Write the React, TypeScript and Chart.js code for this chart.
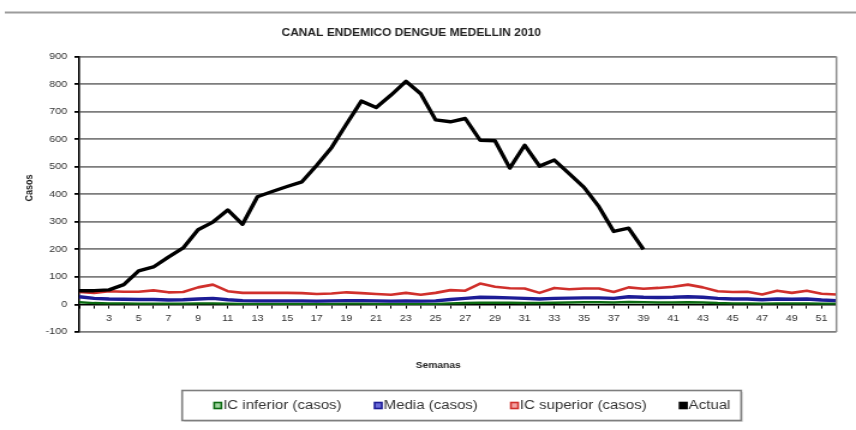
import React, { useEffect, useRef } from 'react';
import { Chart, registerables } from 'chart.js';

Chart.register(...registerables);

// Epidemiological weeks
const weeks = [
  '1', '2', '3', '4', '5', '6', '7', '8', '9', '10', '11', '12', '13',
  '14', '15', '16', '17', '18', '19', '20', '21', '22', '23', '24', '25', '26',
  '27', '28', '29', '30', '31', '32', '33', '34', '35', '36', '37', '38', '39',
  '40', '41', '42', '43', '44', '45', '46', '47', '48', '49', '50', '51', '52',
];

// Weeks whose number is printed under the axis
const labeledWeeks = [
  '3', '5', '7', '9', '11', '13', '15', '17', '19', '21', '23', '25', '27',
  '29', '31', '33', '35', '37', '39', '41', '43', '45', '47', '49', '51',
];

// Lower confidence limit (cases)
const icInferior = [
  8, 5, 4, 4, 3, 3, 3, 3, 4, 4, 3, 2, 2,
  2, 2, 2, 2, 2, 3, 3, 2, 2, 2, 2, 2, 4,
  5, 6, 6, 6, 5, 5, 6, 7, 8, 8, 7, 9, 8,
  7, 7, 8, 7, 5, 4, 4, 3, 4, 4, 4, 3, 3,
];

// Historical mean (cases)
const media = [
  28, 22, 20, 19, 18, 18, 16, 17, 20, 22, 17, 14, 13,
  13, 13, 13, 12, 13, 14, 14, 13, 12, 13, 12, 13, 18,
  22, 26, 25, 24, 22, 20, 22, 23, 24, 24, 22, 28, 26,
  25, 26, 28, 26, 22, 20, 20, 17, 20, 19, 20, 16, 14,
];

// Upper confidence limit (cases)
const icSuperior = [
  45, 42, 48, 46, 46, 51, 44, 45, 62, 72, 48, 42, 42,
  42, 42, 41, 38, 40, 44, 41, 38, 35, 42, 35, 42, 52,
  50, 76, 64, 59, 58, 42, 60, 55, 58, 58, 45, 62, 57,
  60, 64, 72, 62, 48, 45, 46, 36, 50, 42, 50, 39, 36,
];

// Cases reported in 2010 (weeks 1-39)
const actual = [
  50, 50, 53, 72, 122, 136, 172, 205, 271, 299, 343, 291, 391,
  410, 428, 445, 505, 570, 655, 738, 715, 760, 810, 765, 670, 663,
  675, 596, 594, 495, 578, 502, 524, 475, 425, 355, 265, 277, 200,
];

const Y_MIN = -100;
const Y_MAX = 900;
const Y_STEP = 100;

// Canvas is drawn narrower and widened by CSS, giving the broad lettering
const CSS_W = 856;
const H = 430;
const SX = 1.2;
const W = Math.round(CSS_W / SX);

const FONT = '"Liberation Sans", Arial, Helvetica, sans-serif';

const swatchFill: Record<string, string> = {
  'IC inferior (casos)': '#9fd39f',
  'Media (casos)': '#6a6ad8',
  'IC superior (casos)': '#f3a3a3',
  'Actual': '#000000',
};

const decorPlugin = {
  id: 'decor',
  beforeDraw(chart: any) {
    const { ctx } = chart;
    ctx.save();
    ctx.fillStyle = '#ffffff';
    ctx.fillRect(0, 0, chart.width, chart.height);
    // rule across the top of the page
    ctx.strokeStyle = '#9c9c9c';
    ctx.lineWidth = 2;
    ctx.beginPath();
    ctx.moveTo(4, 12.5);
    ctx.lineTo(chart.width, 12.5);
    ctx.stroke();
    ctx.restore();
  },
  afterDraw(chart: any) {
    const { ctx, chartArea } = chart;
    ctx.save();

    // right edge of the plot area
    ctx.strokeStyle = '#8c8c8c';
    ctx.lineWidth = 1.5;
    ctx.beginPath();
    ctx.moveTo(chartArea.right, chartArea.top);
    ctx.lineTo(chartArea.right, chartArea.bottom);
    ctx.stroke();

    // title
    ctx.fillStyle = '#222';
    ctx.textAlign = 'center';
    ctx.textBaseline = 'middle';
    ctx.font = `bold 10px ${FONT}`;
    ctx.fillText('CANAL ENDEMICO DENGUE MEDELLIN 2010', 342.5, 33);

    // axis titles
    ctx.font = `bold 8.5px ${FONT}`;
    ctx.fillText('Semanas', 365, 366);
    ctx.save();
    ctx.translate(25, 188);
    ctx.rotate(-Math.PI / 2);
    ctx.font = `bold 9px ${FONT}`;
    ctx.fillText('Casos', 0, 0);
    ctx.restore();

    // legend
    const sw = 6;
    const swGap = 1.5;
    const itemGap = 27.5;
    const padL = 26.7;
    const padR = 9;
    ctx.font = `12.5px ${FONT}`;
    const items = chart.data.datasets.map((ds: any) => ({
      label: ds.label as string,
      stroke: ds.borderColor as string,
      w: ctx.measureText(ds.label).width,
    }));
    const rowW = items.reduce((s: number, it: any) => s + sw + swGap + it.w, 0) + itemGap * (items.length - 1);
    const boxL = 151.7;
    const boxT = 390.5;
    const boxH = 30;
    const boxW = rowW + padL + padR;
    ctx.fillStyle = 'rgba(0,0,0,0.12)';
    ctx.fillRect(boxL + 1.5, boxT + 1.5, boxW, boxH);
    ctx.fillStyle = '#ffffff';
    ctx.fillRect(boxL, boxT, boxW, boxH);
    ctx.strokeStyle = '#7e7e7e';
    ctx.lineWidth = 1.6;
    ctx.strokeRect(boxL, boxT, boxW, boxH);

    const cy = boxT + boxH / 2;
    let x = boxL + padL;
    ctx.textAlign = 'left';
    ctx.textBaseline = 'middle';
    items.forEach((it: any) => {
      ctx.fillStyle = swatchFill[it.label] || '#fff';
      ctx.fillRect(x, cy - sw / 2, sw, sw);
      ctx.strokeStyle = it.stroke;
      ctx.lineWidth = 1.6;
      ctx.strokeRect(x, cy - sw / 2, sw, sw);
      x += sw + swGap;
      ctx.fillStyle = '#333';
      ctx.fillText(it.label, x, cy + 0.5);
      x += it.w + itemGap;
    });

    ctx.restore();
  },
};

export default function App() {
  const canvasRef = useRef<HTMLCanvasElement>(null);

  useEffect(() => {
    if (!canvasRef.current) return;
    const lineStyle = { pointRadius: 0, pointHoverRadius: 0, tension: 0, fill: false, borderJoinStyle: 'round' as const };
    const chart = new Chart(canvasRef.current, {
      type: 'line',
      data: {
        labels: weeks,
        datasets: [
          { label: 'IC inferior (casos)', data: icInferior, borderColor: '#0c6a12', borderWidth: 2.4, order: 4, ...lineStyle },
          { label: 'Media (casos)', data: media, borderColor: '#1c1c96', borderWidth: 3.4, order: 3, ...lineStyle },
          { label: 'IC superior (casos)', data: icSuperior, borderColor: '#d0302c', borderWidth: 2.6, order: 2, ...lineStyle },
          { label: 'Actual', data: weeks.map((_, i) => (i < actual.length ? actual[i] : null)), borderColor: '#000000', borderWidth: 3.4, order: 1, ...lineStyle },
        ],
      },
      options: {
        responsive: false,
        maintainAspectRatio: false,
        devicePixelRatio: 1,
        animation: false,
        events: [],
        layout: { padding: { left: 0, top: 56.5, right: W - 696.7, bottom: H - 332 } },
        plugins: {
          legend: { display: false },
          title: { display: false },
          tooltip: { enabled: false },
        },
        scales: {
          x: {
            type: 'category',
            position: { y: 0 } as any,
            offset: false,
            border: { display: true, color: '#000', width: 1.6 },
            grid: { drawOnChartArea: false, drawTicks: true, tickLength: 3, tickColor: '#000', lineWidth: 1 },
            ticks: {
              autoSkip: false,
              maxRotation: 0,
              minRotation: 0,
              padding: 6,
              color: '#333',
              font: { family: FONT, size: 9 },
              callback: function (this: any, value: any) {
                const lbl = this.getLabelForValue(value);
                return labeledWeeks.includes(lbl) ? lbl : '';
              },
            },
          },
          y: {
            type: 'linear',
            min: Y_MIN,
            max: Y_MAX,
            afterFit: (scale: any) => { scale.width = 66; },
            border: { display: true, color: '#000', width: 1.6 },
            grid: {
              color: (c: any) => (c.tick && c.tick.value === 0 ? 'rgba(0,0,0,0)' : '#7d7d7d'),
              lineWidth: 1.8,
              drawTicks: true,
              tickLength: 4,
              tickColor: '#000',
            },
            ticks: {
              stepSize: Y_STEP,
              padding: 6,
              color: '#333',
              font: { family: FONT, size: 9 },
            },
          },
        },
      },
      plugins: [decorPlugin],
    });
    return () => chart.destroy();
  }, []);

  return (
    <div style={{ position: 'fixed', left: 0, top: 0, width: CSS_W, height: H, background: '#fff' }}>
      <canvas
        ref={canvasRef}
        width={W}
        height={H}
        style={{ width: `${CSS_W}px`, height: `${H}px`, display: 'block' }}
      />
    </div>
  );
}
